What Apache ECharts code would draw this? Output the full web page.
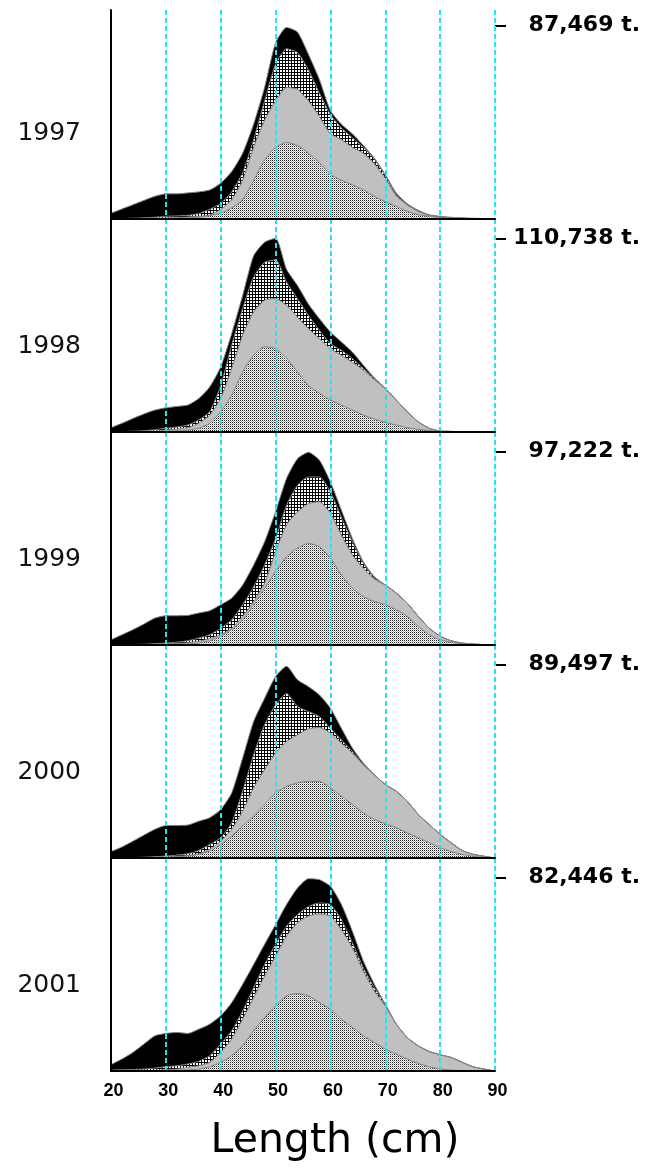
<!DOCTYPE html>
<html>
<head>
<meta charset="utf-8">
<script src="https://cdn.jsdelivr.net/npm/echarts@6/dist/echarts.min.js"></script>
<style>
    html, body { margin: 0; padding: 0; background: #fff; }
    #chart { width: 649px; height: 1169px; }
</style>
</head>
<body>
<div id="chart"></div>
<script>
// lengths (cm) at which the distributions were read
const lengths = [20, 22, 24, 26, 28, 30, 32, 34, 36, 38, 40, 42, 44, 46, 48, 50, 52, 54,
    56, 58, 60, 62, 64, 66, 68, 70, 72, 74, 76, 78, 80, 82, 84, 86, 88, 90];
const years = ['1997', '1998', '1999', '2000', '2001'];
const totals = ['87,469 t.', '110,738 t.', '97,222 t.', '89,497 t.', '82,446 t.'];

// cumulative outlines, % of the year's peak (outer = black top, then hatched, grey, dotted)
const outer97 = [3, 5.2, 7.4, 9.6, 11.7, 13, 13, 13.5, 14, 15, 18.5, 24.5, 34, 49, 68, 91, 99, 96.6, 85, 72, 56, 49, 44, 38, 31.5, 23, 13.4, 7.9, 4.5, 2.2, 1.4, 0.9, 0.6, 0.4, 0.2, 0];
const hatched97 = [0, 0.2, 0.4, 0.6, 0.9, 1.4, 1.6, 1.9, 2.8, 5, 8, 14, 24, 41, 61, 80, 88, 86, 77, 65, 54, 47, 42, 37, 31, 22.5, 12.5, 7.4, 4, 2, 1, 0.6, 0.4, 0.2, 0.1, 0];
const grey97 = [0, 0, 0, 0.1, 0.3, 0.5, 0.7, 1, 1.4, 2, 5, 10, 20, 37, 51, 61, 68, 67, 61, 53, 44, 41, 37, 34, 28.5, 21, 12, 7.2, 4, 2, 1, 0.5, 0.3, 0.2, 0.1, 0];
const dotted97 = [0, 0, 0, 0, 0, 0.2, 0.3, 0.5, 0.8, 1.7, 3, 5.7, 10, 20, 30.5, 37, 39.5, 38, 34, 29, 23, 20, 17.7, 15, 11.7, 9, 6.5, 4, 2.2, 1.4, 0.5, 0.3, 0.2, 0.1, 0, 0];

const outer98 = [2.2, 4.5, 7, 9.3, 11.3, 12.5, 13.2, 13.9, 17.3, 23.3, 33.6, 50.8, 70.5, 91, 98, 100, 84, 75.6, 66, 58.5, 51.6, 46.5, 41.3, 34.5, 28, 22.5, 16.5, 10.5, 5.3, 1.9, 0.5, 0.3, 0.2, 0.1, 0, 0];
const hatched98 = [0, 0.2, 0.4, 0.7, 1.2, 1.9, 2.6, 3.6, 6.2, 10.5, 24, 44.8, 63.6, 80, 87.6, 88.9, 77.4, 68.8, 60.2, 52.5, 45.6, 42.2, 37.9, 32.8, 27.6, 22.5, 16.5, 10.5, 5.3, 1.9, 0.5, 0.3, 0.2, 0.1, 0, 0];
const grey98 = [0, 0, 0.1, 0.2, 0.4, 1, 1.5, 2.2, 4.5, 8.7, 17.3, 32.8, 50, 62, 68, 69, 65.4, 59.3, 53.3, 48.2, 43, 39.6, 36, 32, 27, 22.5, 16.5, 10.5, 5.3, 1.9, 0.5, 0.3, 0.2, 0.1, 0, 0];
const dotted98 = [0, 0, 0, 0, 0, 0.3, 0.6, 1, 1.9, 4.5, 10.5, 19, 31, 39.6, 44, 43, 38, 31, 24, 20, 16.5, 13.9, 11.3, 8.7, 6.7, 5, 3.6, 2.2, 1.4, 0.7, 0.2, 0, 0, 0, 0, 0];

const outer99 = [2.7, 5.3, 7.9, 10.8, 13.9, 15.1, 15.1, 15.3, 16.5, 17.7, 20.8, 24.2, 31, 41.3, 53.3, 68.8, 86, 96.2, 99.5, 95.4, 84.2, 69.6, 55, 43, 35.3, 31, 26.8, 21.6, 14.8, 8.7, 4.5, 2.2, 1, 0.5, 0.2, 0];
const hatched99 = [0, 0.1, 0.2, 0.4, 0.7, 1, 1.5, 2.2, 3.6, 5.3, 8.7, 13, 20.8, 30, 41.3, 55, 72.2, 82.5, 86.8, 86.8, 79, 66, 53.3, 42.2, 34.5, 31, 26.8, 21.6, 14.8, 8.7, 4.5, 2.2, 1, 0.5, 0.2, 0];
const grey99 = [0, 0, 0, 0.1, 0.2, 0.5, 0.8, 1.2, 1.9, 3.3, 5.3, 8.7, 14.7, 22.5, 31.9, 48.2, 62, 68.8, 73, 74, 68, 56.8, 46.5, 39.6, 34, 31, 26.8, 21.6, 14.8, 8.7, 4.5, 2.2, 1, 0.5, 0.2, 0];
const dotted99 = [0, 0, 0, 0, 0, 0.2, 0.4, 0.6, 1, 2.2, 4.5, 7.9, 13, 20.8, 29.3, 37.9, 45.6, 50, 52.5, 50.8, 44.8, 36.2, 29.3, 25, 22.5, 20.8, 18.2, 14.8, 9.6, 5.3, 2.7, 1.4, 0.5, 0.2, 0, 0];

const outer00 = [3.3, 5.7, 8.7, 11.8, 14.8, 16.8, 16.8, 17, 19, 20.8, 25, 33.6, 51.6, 70.5, 82.5, 93.7, 99, 92, 88.5, 84.2, 77.4, 67, 56.8, 49, 43, 37.9, 34.5, 29.3, 22.5, 17.3, 12.2, 7.9, 3.9, 1.9, 0.9, 0];
const hatched00 = [0, 0.1, 0.2, 0.4, 0.7, 1, 1.5, 2.2, 3.9, 7, 10.5, 18.2, 34.5, 53.3, 68.8, 79, 85, 78.2, 75.6, 73, 67, 61, 55, 48.2, 43, 37.9, 34.5, 29.3, 22.5, 17.3, 12.2, 7.9, 3.9, 1.9, 0.9, 0];
const grey00 = [0, 0, 0, 0.1, 0.2, 0.4, 0.8, 1.3, 2.2, 4.5, 8.7, 14.8, 24.2, 36.2, 45.6, 54.2, 60.2, 63.6, 66.7, 67.4, 64.5, 59.3, 54.2, 48, 43, 37.9, 34.5, 29.3, 22.5, 17.3, 12.2, 7.9, 3.9, 1.9, 0.9, 0];
const dotted00 = [0, 0, 0, 0, 0, 0.2, 0.5, 1, 1.9, 3.6, 7, 11.3, 16.5, 21.6, 27.6, 33.6, 37, 38.8, 39.6, 39.6, 36.2, 31.9, 27.6, 23.3, 19.9, 17.7, 15.6, 13, 10.5, 7.9, 5.3, 3.3, 1.9, 0.9, 0.3, 0];

const outer01 = [3.3, 6.2, 9.6, 13.9, 18.2, 19.4, 19.9, 19.4, 21.6, 24.2, 28.5, 35.3, 44.8, 55, 65.4, 75.6, 86, 94.5, 99.3, 98.8, 95.4, 86, 72.2, 56.8, 44.8, 34.5, 24.2, 17.3, 13, 10.1, 8.4, 7, 4.5, 2.2, 1, 0];
const hatched01 = [0.5, 0.6, 0.8, 1, 1.5, 2.2, 2.7, 3.6, 5, 7.9, 13.9, 20.8, 31, 43, 55, 65.4, 74.8, 80.8, 85, 86.8, 86, 78.2, 66.2, 53.3, 43, 34.5, 24.2, 17.3, 13, 10.1, 8.4, 7, 4.5, 2.2, 1, 0];
const grey01 = [0, 0, 0.1, 0.2, 0.4, 0.7, 1, 1.9, 2.7, 4.5, 9.6, 16.5, 26.8, 37.9, 49, 59.3, 69.6, 76.5, 80, 81.1, 80, 73, 63.6, 51.6, 41.3, 33.6, 24.2, 17.3, 13, 10.1, 8.4, 7, 4.5, 2.2, 1, 0];
const dotted01 = [0, 0, 0, 0, 0, 0.2, 0.4, 0.6, 1, 2.2, 4.5, 7.9, 13, 20.8, 27.6, 33.6, 38.8, 40, 38.8, 35.3, 31.9, 26.8, 22.5, 18.2, 14.8, 11.3, 8.7, 6.2, 3.9, 2.2, 1, 0.5, 0.2, 0, 0, 0];

const panels = [
    [outer97, hatched97, grey97, dotted97],
    [outer98, hatched98, grey98, dotted98],
    [outer99, hatched99, grey99, dotted99],
    [outer00, hatched00, grey00, dotted00],
    [outer01, hatched01, grey01, dotted01]
];

const ARIAL = "'Liberation Sans', Arial, sans-serif";
const WIDE = "'DejaVu Sans', Verdana, sans-serif";
const gridTops = [10, 219, 432, 645, 858];
const gridHeights = [209, 213, 213, 213, 213];
const yMaxes = [108, 110, 110, 110, 110];
const yearLabelAt = 44.4;

const makePattern = (size, draw) => {
    const c = document.createElement('canvas');
    c.width = size;
    c.height = size;
    const ctx = c.getContext('2d');
    ctx.fillStyle = '#fff';
    ctx.fillRect(0, 0, size, size);
    draw(ctx);
    return { image: c, repeat: 'repeat' };
};

const hatchPattern = makePattern(3, (ctx) => {
    ctx.fillStyle = '#000';
    ctx.fillRect(0, 0, 3, 1);
    ctx.fillRect(0, 0, 1, 3);
});

const dotPattern = makePattern(2, (ctx) => {
    ctx.fillStyle = '#222';
    ctx.fillRect(0, 0, 1, 1);
    ctx.fillStyle = '#b4b4b4';
    ctx.fillRect(1, 1, 1, 1);
});

const layerFills = ['#000', hatchPattern, '#c0c0c0', dotPattern];

const grid = [];
const xAxis = [];
const yAxis = [];
const series = [];

panels.forEach((layers, i) => {
    const last = i === panels.length - 1;
    grid.push({ left: 111, right: 154, top: gridTops[i], height: gridHeights[i] });
    xAxis.push({
        type: 'value',
        gridIndex: i,
        min: 20,
        max: 90,
        interval: 10,
        z: 10,
        axisLine: { lineStyle: { color: '#000', width: 2 } },
        axisTick: { show: false },
        axisLabel: {
            show: last,
            color: '#000',
            fontFamily: ARIAL,
            fontWeight: 'bold',
            fontSize: 18,
            margin: 11,
            padding: [0, 0, 0, 5]
        },
        splitLine: {
            show: true,
            lineStyle: { color: '#22e4ef', width: 2, type: [5, 3] }
        },
        name: last ? 'Length (cm)' : '',
        nameLocation: 'middle',
        nameGap: 50,
        nameTextStyle: {
            fontFamily: WIDE,
            fontSize: 41,
            color: '#000',
            padding: [0, 0, 0, 64]
        }
    });
    yAxis.push({
        type: 'value',
        gridIndex: i,
        min: 0,
        max: yMaxes[i],
        z: 10,
        axisLine: { show: true, lineStyle: { color: '#000', width: 2 } },
        axisTick: { show: false },
        splitLine: { show: false },
        axisLabel: {
            customValues: [yearLabelAt],
            formatter: () => years[i],
            color: '#111',
            fontFamily: WIDE,
            fontSize: 25,
            margin: 30
        }
    });
    yAxis.push({
        type: 'value',
        gridIndex: i,
        position: 'right',
        min: 0,
        max: yMaxes[i],
        axisLine: { show: false },
        axisTick: {
            show: true,
            customValues: [100],
            length: 11,
            lineStyle: { color: '#000', width: 2 }
        },
        splitLine: { show: false },
        axisLabel: {
            customValues: [100],
            formatter: () => totals[i],
            color: '#000',
            fontFamily: WIDE,
            fontWeight: 'bold',
            fontSize: 22,
            align: 'right',
            margin: 145
        }
    });
    layers.forEach((vals, k) => {
        series.push({
            type: 'line',
            xAxisIndex: i,
            yAxisIndex: i * 2,
            data: lengths.map((x, j) => [x, vals[j]]),
            symbol: 'none',
            smooth: 0.2,
            lineStyle: { color: '#808080', width: 1 },
            areaStyle: { color: layerFills[k], opacity: 1 },
            silent: true
        });
    });
});

const chart = echarts.init(document.getElementById('chart'));
chart.setOption({
    animation: false,
    backgroundColor: '#fff',
    grid,
    xAxis,
    yAxis,
    series
});
</script>
</body>
</html>
